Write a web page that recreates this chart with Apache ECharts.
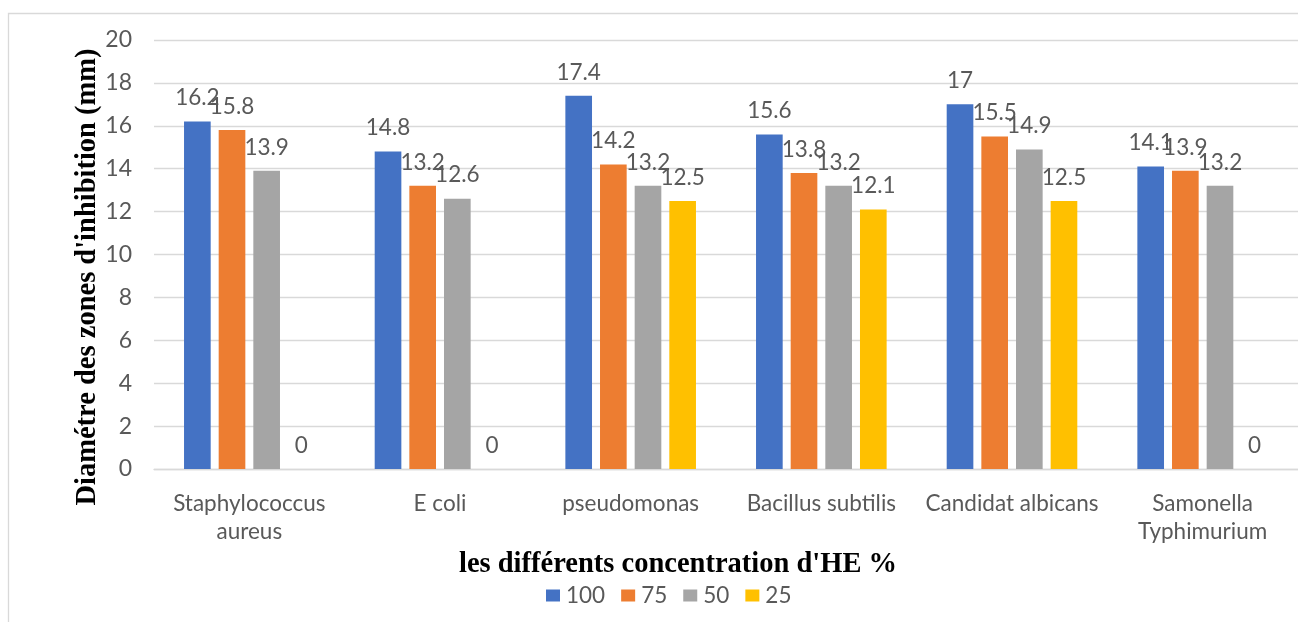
<!DOCTYPE html>
<html>
<head>
<meta charset="utf-8">
<script src="https://cdn.jsdelivr.net/npm/echarts@6/dist/echarts.min.js"></script>
<style>
html,body{margin:0;padding:0;background:#fff;}
#chart{width:1298px;height:622px;}
</style>
</head>
<body>
<div id="chart"></div>
<script>
const categories = ['Staphylococcus\naureus', 'E coli', 'pseudomonas', 'Bacillus subtilis', 'Candidat albicans', 'Samonella\nTyphimurium'];
const seriesNames = ['100', '75', '50', '25'];
const values100 = [16.2, 14.8, 17.4, 15.6, 17, 14.1];
const values75 = [15.8, 13.2, 14.2, 13.8, 15.5, 13.9];
const values50 = [13.9, 12.6, 13.2, 13.2, 14.9, 13.2];
const values25 = [0, 0, 12.5, 12.1, 12.5, 0];
const yTitle = "Diamétre des zones d'inhibition (mm)";
const xTitle = "les différents concentration d'HE %";
const colors = ['#4472C4', '#ED7D31', '#A5A5A5', '#FFC000'];

const textColor = '#595959';
const fontFam = 'Lato, "Open Sans", sans-serif';
const allValues = [values100, values75, values50, values25];

const chart = echarts.init(document.getElementById('chart'), null, {renderer: 'canvas'});
chart.setOption({
  animation: false,
  color: colors,
  grid: {left: 154, top: 40, width: 1158, height: 429, containLabel: false},
  legend: {
    data: seriesNames,
    left: 546, top: 584, padding: 0,
    itemWidth: 14, itemHeight: 12, itemGap: 16,
    icon: 'rect',
    textStyle: {color: textColor, fontSize: 22.5, fontFamily: fontFam, padding: [0,0,0,1]}
  },
  xAxis: {
    type: 'category',
    data: categories,
    axisLine: {show: true, lineStyle: {color: '#d9d9d9', width: 1.3}},
    axisTick: {show: false},
    axisLabel: {color: textColor, fontSize: 22.5, fontFamily: fontFam, margin: 21, lineHeight: 28, interval: 0}
  },
  yAxis: {
    type: 'value',
    min: 0, max: 20, interval: 2,
    axisLine: {show: false},
    axisTick: {show: false},
    splitLine: {lineStyle: {color: '#d9d9d9', width: 1.3}},
    axisLabel: {color: textColor, fontSize: 23, fontFamily: fontFam, margin: 22}
  },
  series: seriesNames.map((n, i) => ({
    name: n,
    type: 'bar',
    data: allValues[i],
    barGap: '30%',
    barCategoryGap: '31.5%',
    label: {show: true, position: 'top', distance: 12, color: textColor, fontSize: 22.5, fontFamily: fontFam}
  })),
  graphic: [
    {type: 'rect', shape: {x: 8.5, y: 13.5, width: 1400, height: 700}, style: {fill: 'none', stroke: '#d9d9d9', lineWidth: 1.3}, silent: true, z: -10},
    {type: 'text', x: 88, y: 277, rotation: Math.PI / 2,
     style: {text: yTitle, font: 'bold 28.5px "Liberation Serif", "Times New Roman", serif', fill: '#000', textAlign: 'center', textVerticalAlign: 'middle'}},
    {type: 'text', x: 678, y: 565,
     style: {text: xTitle, font: 'bold 28.5px "Liberation Serif", "Times New Roman", serif', fill: '#000', textAlign: 'center', textVerticalAlign: 'middle'}}
  ]
});
</script>
</body>
</html>
